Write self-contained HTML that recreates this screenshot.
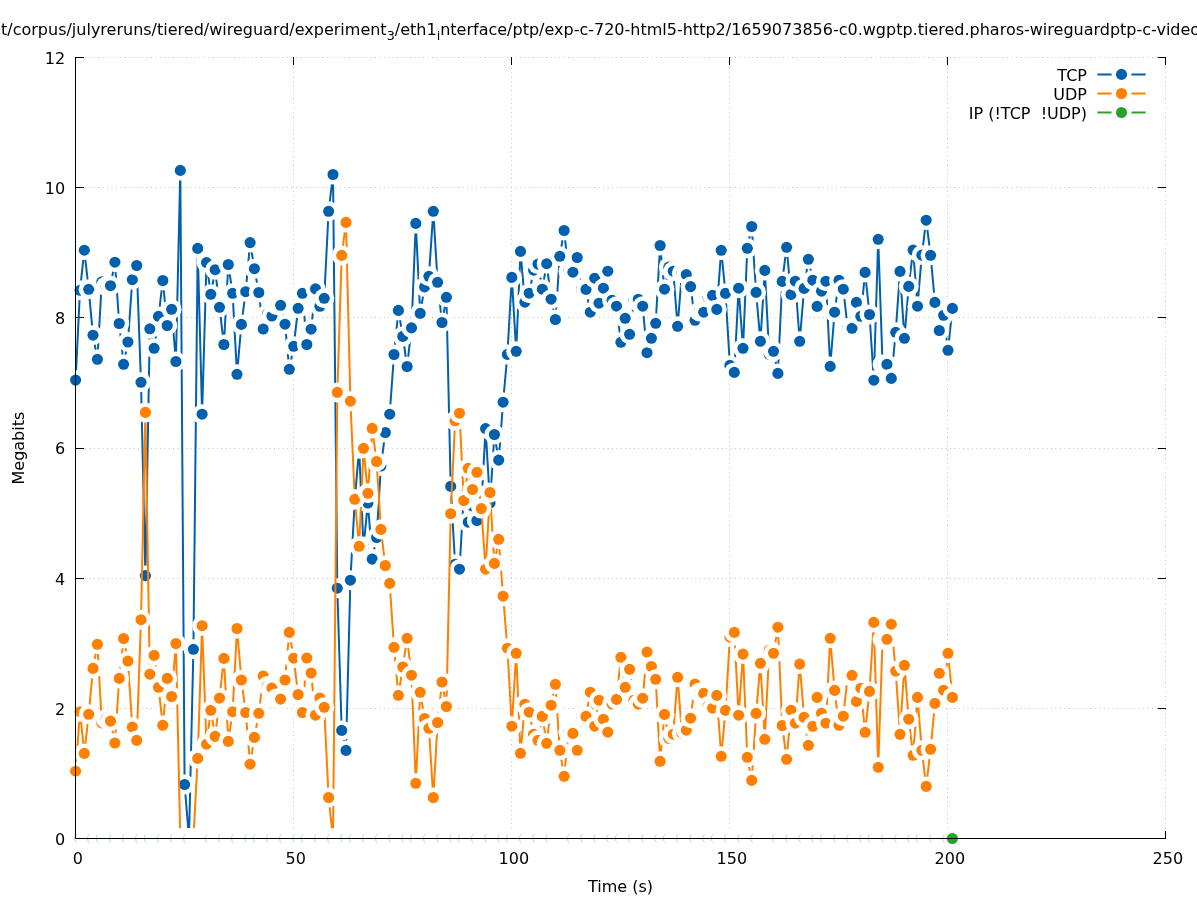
<!DOCTYPE html>
<html><head><meta charset="utf-8"><title>Megabits over time</title>
<style>
html,body{margin:0;padding:0;background:#fff;}
body{width:1197px;height:900px;overflow:hidden;}
svg{display:block;}
text{font-family:"DejaVu Sans","Liberation Sans",sans-serif;font-size:16px;fill:#000;}
</style></head><body>
<svg width="1197" height="900" viewBox="0 0 1197 900">
<rect width="1197" height="900" fill="#fff"/>
<g stroke="#a0a0a0" stroke-width="1" fill="none" opacity="0.65">
<line stroke-dasharray="1 3.39" x1="85.2" y1="838.5" x2="1165.5" y2="838.5"/>
<line stroke-dasharray="1 3.39" x1="85.2" y1="708.5" x2="1165.5" y2="708.5"/>
<line stroke-dasharray="1 3.39" x1="85.2" y1="578.5" x2="1165.5" y2="578.5"/>
<line stroke-dasharray="1 3.39" x1="85.2" y1="448.5" x2="1165.5" y2="448.5"/>
<line stroke-dasharray="1 3.39" x1="85.2" y1="317.5" x2="1165.5" y2="317.5"/>
<line stroke-dasharray="1 3.39" x1="85.2" y1="187.5" x2="1165.5" y2="187.5"/>
<line stroke-dasharray="1 3.39" x1="85.2" y1="57.5" x2="1165.5" y2="57.5"/>
<line stroke-dasharray="1 3.39" x1="75.5" y1="68.0" x2="75.5" y2="838.5"/>
<line stroke-dasharray="1 3.39" x1="293.5" y1="68.0" x2="293.5" y2="838.5"/>
<line stroke-dasharray="1 3.39" x1="511.5" y1="68.0" x2="511.5" y2="838.5"/>
<line stroke-dasharray="1 3.39" x1="729.5" y1="68.0" x2="729.5" y2="838.5"/>
<line stroke-dasharray="1 3.39" x1="947.5" y1="68.0" x2="947.5" y2="838.5"/>
<line stroke-dasharray="1 3.39" x1="1165.5" y1="68.0" x2="1165.5" y2="838.5"/>
</g>
<g stroke="#000" stroke-width="1" fill="none">
<line x1="75.5" y1="838.5" x2="84.1" y2="838.5"/>
<line x1="1166.0" y1="838.5" x2="1157.9" y2="838.5"/>
<line x1="75.5" y1="708.5" x2="84.1" y2="708.5"/>
<line x1="1166.0" y1="708.5" x2="1157.9" y2="708.5"/>
<line x1="75.5" y1="578.5" x2="84.1" y2="578.5"/>
<line x1="1166.0" y1="578.5" x2="1157.9" y2="578.5"/>
<line x1="75.5" y1="448.5" x2="84.1" y2="448.5"/>
<line x1="1166.0" y1="448.5" x2="1157.9" y2="448.5"/>
<line x1="75.5" y1="317.5" x2="84.1" y2="317.5"/>
<line x1="1166.0" y1="317.5" x2="1157.9" y2="317.5"/>
<line x1="75.5" y1="187.5" x2="84.1" y2="187.5"/>
<line x1="1166.0" y1="187.5" x2="1157.9" y2="187.5"/>
<line x1="75.5" y1="57.5" x2="84.1" y2="57.5"/>
<line x1="1166.0" y1="57.5" x2="1157.9" y2="57.5"/>
<line x1="75.5" y1="838.5" x2="75.5" y2="831.0"/>
<line x1="75.5" y1="57.0" x2="75.5" y2="65.0"/>
<line x1="293.5" y1="838.5" x2="293.5" y2="831.0"/>
<line x1="293.5" y1="57.0" x2="293.5" y2="65.0"/>
<line x1="511.5" y1="838.5" x2="511.5" y2="831.0"/>
<line x1="511.5" y1="57.0" x2="511.5" y2="65.0"/>
<line x1="729.5" y1="838.5" x2="729.5" y2="831.0"/>
<line x1="729.5" y1="57.0" x2="729.5" y2="65.0"/>
<line x1="947.5" y1="838.5" x2="947.5" y2="831.0"/>
<line x1="947.5" y1="57.0" x2="947.5" y2="65.0"/>
<line x1="1165.5" y1="838.5" x2="1165.5" y2="831.0"/>
<line x1="1165.5" y1="57.0" x2="1165.5" y2="65.0"/>
</g>
<g>
<polyline fill="none" stroke="#0060ad" stroke-width="2" stroke-linejoin="round" points="75.6,380.1 80.0,290.3 84.3,250.2 88.7,289.3 93.0,335.2 97.4,359.3 101.8,281.8 106.1,286.3 110.5,285.7 114.9,262.2 119.2,323.5 123.6,364.3 127.9,342.0 132.3,279.7 136.7,265.5 141.0,382.3 145.4,575.6 149.8,328.8 154.1,348.3 158.5,316.4 162.8,280.5 167.2,325.5 171.6,309.3 175.9,361.5 180.3,170.4 184.6,784.5 189.0,838.3 193.4,649.3 197.7,248.4 202.1,414.2 206.5,262.6 210.8,294.3 215.2,269.7 219.5,307.3 223.9,344.5 228.3,264.5 232.6,293.3 237.0,374.3 241.4,324.4 245.7,291.7 250.1,242.6 254.4,268.7 258.8,292.5 263.2,329.0 267.5,314.0 271.9,316.0 276.3,305.0 280.6,305.3 285.0,324.2 289.3,369.3 293.7,346.3 298.1,308.3 302.4,293.3 306.8,344.5 311.1,329.2 315.5,288.9 319.9,306.3 324.2,298.3 328.6,211.3 333.0,174.5 337.3,588.2 341.7,730.4 346.0,750.4 350.4,580.2 354.8,500.0 359.1,448.8 363.5,546.5 367.9,503.0 372.2,559.1 376.6,537.5 380.9,466.0 385.3,432.5 389.7,414.2 394.0,354.5 398.4,310.4 402.8,336.4 407.1,366.5 411.5,327.9 415.8,223.4 420.2,313.4 424.6,286.9 428.9,276.3 433.3,211.3 437.6,282.3 442.0,322.5 446.4,297.3 450.7,486.4 455.1,564.2 459.5,569.2 463.8,495.5 468.2,522.1 472.5,506.0 476.9,520.5 481.3,506.0 485.6,428.6 490.0,503.0 494.4,434.5 498.7,460.1 503.1,402.2 507.4,354.4 511.8,277.4 516.2,351.3 520.5,251.4 524.9,302.2 529.2,293.2 533.6,270.2 538.0,264.1 542.3,289.2 546.7,263.7 551.1,299.2 555.4,319.5 559.8,256.3 564.1,230.5 568.5,271.5 572.9,272.2 577.2,257.5 581.6,289.2 586.0,289.4 590.3,312.2 594.7,278.2 599.0,303.2 603.4,288.2 607.8,271.2 612.1,300.2 616.5,306.2 620.9,342.3 625.2,318.3 629.6,334.3 633.9,300.2 638.3,299.2 642.7,306.2 647.0,352.7 651.4,338.3 655.7,323.3 660.1,245.5 664.5,289.2 668.8,267.1 673.2,271.2 677.6,326.3 681.9,273.2 686.3,274.6 690.6,286.6 695.0,320.3 699.4,311.5 703.7,312.2 708.1,297.2 712.5,295.4 716.8,309.4 721.2,250.3 725.5,293.4 729.9,365.4 734.3,372.4 738.6,288.2 743.0,348.3 747.3,248.3 751.7,226.5 756.1,292.4 760.4,341.3 764.8,270.4 769.2,354.3 773.5,351.3 777.9,373.4 782.2,281.4 786.6,247.3 791.0,294.4 795.3,281.2 799.7,341.3 804.1,288.4 808.4,259.3 812.8,280.2 817.1,306.4 821.5,291.2 825.9,281.2 830.2,366.4 834.6,312.2 839.0,280.2 843.3,289.2 847.7,328.0 852.0,328.3 856.4,302.4 860.8,316.3 865.1,272.4 869.5,314.5 873.8,380.2 878.2,239.3 882.6,364.6 886.9,364.4 891.3,378.4 895.7,332.3 900.0,271.4 904.4,338.3 908.7,286.4 913.1,250.1 917.5,306.2 921.8,255.1 926.2,220.2 930.6,255.3 934.9,302.4 939.3,330.5 943.6,315.3 948.0,350.3 952.4,308.4"/>
<circle cx="75.6" cy="380.1" r="10" fill="#fff"/><circle cx="75.6" cy="380.1" r="5.55" fill="#0060ad"/>
<circle cx="80.0" cy="290.3" r="10" fill="#fff"/><circle cx="80.0" cy="290.3" r="5.55" fill="#0060ad"/>
<circle cx="84.3" cy="250.2" r="10" fill="#fff"/><circle cx="84.3" cy="250.2" r="5.55" fill="#0060ad"/>
<circle cx="88.7" cy="289.3" r="10" fill="#fff"/><circle cx="88.7" cy="289.3" r="5.55" fill="#0060ad"/>
<circle cx="93.0" cy="335.2" r="10" fill="#fff"/><circle cx="93.0" cy="335.2" r="5.55" fill="#0060ad"/>
<circle cx="97.4" cy="359.3" r="10" fill="#fff"/><circle cx="97.4" cy="359.3" r="5.55" fill="#0060ad"/>
<circle cx="101.8" cy="281.8" r="10" fill="#fff"/><circle cx="101.8" cy="281.8" r="5.55" fill="#0060ad"/>
<circle cx="106.1" cy="286.3" r="10" fill="#fff"/><circle cx="106.1" cy="286.3" r="5.55" fill="#0060ad"/>
<circle cx="110.5" cy="285.7" r="10" fill="#fff"/><circle cx="110.5" cy="285.7" r="5.55" fill="#0060ad"/>
<circle cx="114.9" cy="262.2" r="10" fill="#fff"/><circle cx="114.9" cy="262.2" r="5.55" fill="#0060ad"/>
<circle cx="119.2" cy="323.5" r="10" fill="#fff"/><circle cx="119.2" cy="323.5" r="5.55" fill="#0060ad"/>
<circle cx="123.6" cy="364.3" r="10" fill="#fff"/><circle cx="123.6" cy="364.3" r="5.55" fill="#0060ad"/>
<circle cx="127.9" cy="342.0" r="10" fill="#fff"/><circle cx="127.9" cy="342.0" r="5.55" fill="#0060ad"/>
<circle cx="132.3" cy="279.7" r="10" fill="#fff"/><circle cx="132.3" cy="279.7" r="5.55" fill="#0060ad"/>
<circle cx="136.7" cy="265.5" r="10" fill="#fff"/><circle cx="136.7" cy="265.5" r="5.55" fill="#0060ad"/>
<circle cx="141.0" cy="382.3" r="10" fill="#fff"/><circle cx="141.0" cy="382.3" r="5.55" fill="#0060ad"/>
<circle cx="145.4" cy="575.6" r="10" fill="#fff"/><circle cx="145.4" cy="575.6" r="5.55" fill="#0060ad"/>
<circle cx="149.8" cy="328.8" r="10" fill="#fff"/><circle cx="149.8" cy="328.8" r="5.55" fill="#0060ad"/>
<circle cx="154.1" cy="348.3" r="10" fill="#fff"/><circle cx="154.1" cy="348.3" r="5.55" fill="#0060ad"/>
<circle cx="158.5" cy="316.4" r="10" fill="#fff"/><circle cx="158.5" cy="316.4" r="5.55" fill="#0060ad"/>
<circle cx="162.8" cy="280.5" r="10" fill="#fff"/><circle cx="162.8" cy="280.5" r="5.55" fill="#0060ad"/>
<circle cx="167.2" cy="325.5" r="10" fill="#fff"/><circle cx="167.2" cy="325.5" r="5.55" fill="#0060ad"/>
<circle cx="171.6" cy="309.3" r="10" fill="#fff"/><circle cx="171.6" cy="309.3" r="5.55" fill="#0060ad"/>
<circle cx="175.9" cy="361.5" r="10" fill="#fff"/><circle cx="175.9" cy="361.5" r="5.55" fill="#0060ad"/>
<circle cx="180.3" cy="170.4" r="10" fill="#fff"/><circle cx="180.3" cy="170.4" r="5.55" fill="#0060ad"/>
<circle cx="184.6" cy="784.5" r="10" fill="#fff"/><circle cx="184.6" cy="784.5" r="5.55" fill="#0060ad"/>
<circle cx="189.0" cy="838.3" r="10" fill="#fff"/><circle cx="189.0" cy="838.3" r="5.55" fill="#0060ad"/>
<circle cx="193.4" cy="649.3" r="10" fill="#fff"/><circle cx="193.4" cy="649.3" r="5.55" fill="#0060ad"/>
<circle cx="197.7" cy="248.4" r="10" fill="#fff"/><circle cx="197.7" cy="248.4" r="5.55" fill="#0060ad"/>
<circle cx="202.1" cy="414.2" r="10" fill="#fff"/><circle cx="202.1" cy="414.2" r="5.55" fill="#0060ad"/>
<circle cx="206.5" cy="262.6" r="10" fill="#fff"/><circle cx="206.5" cy="262.6" r="5.55" fill="#0060ad"/>
<circle cx="210.8" cy="294.3" r="10" fill="#fff"/><circle cx="210.8" cy="294.3" r="5.55" fill="#0060ad"/>
<circle cx="215.2" cy="269.7" r="10" fill="#fff"/><circle cx="215.2" cy="269.7" r="5.55" fill="#0060ad"/>
<circle cx="219.5" cy="307.3" r="10" fill="#fff"/><circle cx="219.5" cy="307.3" r="5.55" fill="#0060ad"/>
<circle cx="223.9" cy="344.5" r="10" fill="#fff"/><circle cx="223.9" cy="344.5" r="5.55" fill="#0060ad"/>
<circle cx="228.3" cy="264.5" r="10" fill="#fff"/><circle cx="228.3" cy="264.5" r="5.55" fill="#0060ad"/>
<circle cx="232.6" cy="293.3" r="10" fill="#fff"/><circle cx="232.6" cy="293.3" r="5.55" fill="#0060ad"/>
<circle cx="237.0" cy="374.3" r="10" fill="#fff"/><circle cx="237.0" cy="374.3" r="5.55" fill="#0060ad"/>
<circle cx="241.4" cy="324.4" r="10" fill="#fff"/><circle cx="241.4" cy="324.4" r="5.55" fill="#0060ad"/>
<circle cx="245.7" cy="291.7" r="10" fill="#fff"/><circle cx="245.7" cy="291.7" r="5.55" fill="#0060ad"/>
<circle cx="250.1" cy="242.6" r="10" fill="#fff"/><circle cx="250.1" cy="242.6" r="5.55" fill="#0060ad"/>
<circle cx="254.4" cy="268.7" r="10" fill="#fff"/><circle cx="254.4" cy="268.7" r="5.55" fill="#0060ad"/>
<circle cx="258.8" cy="292.5" r="10" fill="#fff"/><circle cx="258.8" cy="292.5" r="5.55" fill="#0060ad"/>
<circle cx="263.2" cy="329.0" r="10" fill="#fff"/><circle cx="263.2" cy="329.0" r="5.55" fill="#0060ad"/>
<circle cx="267.5" cy="314.0" r="10" fill="#fff"/><circle cx="267.5" cy="314.0" r="5.55" fill="#0060ad"/>
<circle cx="271.9" cy="316.0" r="10" fill="#fff"/><circle cx="271.9" cy="316.0" r="5.55" fill="#0060ad"/>
<circle cx="276.3" cy="305.0" r="10" fill="#fff"/><circle cx="276.3" cy="305.0" r="5.55" fill="#0060ad"/>
<circle cx="280.6" cy="305.3" r="10" fill="#fff"/><circle cx="280.6" cy="305.3" r="5.55" fill="#0060ad"/>
<circle cx="285.0" cy="324.2" r="10" fill="#fff"/><circle cx="285.0" cy="324.2" r="5.55" fill="#0060ad"/>
<circle cx="289.3" cy="369.3" r="10" fill="#fff"/><circle cx="289.3" cy="369.3" r="5.55" fill="#0060ad"/>
<circle cx="293.7" cy="346.3" r="10" fill="#fff"/><circle cx="293.7" cy="346.3" r="5.55" fill="#0060ad"/>
<circle cx="298.1" cy="308.3" r="10" fill="#fff"/><circle cx="298.1" cy="308.3" r="5.55" fill="#0060ad"/>
<circle cx="302.4" cy="293.3" r="10" fill="#fff"/><circle cx="302.4" cy="293.3" r="5.55" fill="#0060ad"/>
<circle cx="306.8" cy="344.5" r="10" fill="#fff"/><circle cx="306.8" cy="344.5" r="5.55" fill="#0060ad"/>
<circle cx="311.1" cy="329.2" r="10" fill="#fff"/><circle cx="311.1" cy="329.2" r="5.55" fill="#0060ad"/>
<circle cx="315.5" cy="288.9" r="10" fill="#fff"/><circle cx="315.5" cy="288.9" r="5.55" fill="#0060ad"/>
<circle cx="319.9" cy="306.3" r="10" fill="#fff"/><circle cx="319.9" cy="306.3" r="5.55" fill="#0060ad"/>
<circle cx="324.2" cy="298.3" r="10" fill="#fff"/><circle cx="324.2" cy="298.3" r="5.55" fill="#0060ad"/>
<circle cx="328.6" cy="211.3" r="10" fill="#fff"/><circle cx="328.6" cy="211.3" r="5.55" fill="#0060ad"/>
<circle cx="333.0" cy="174.5" r="10" fill="#fff"/><circle cx="333.0" cy="174.5" r="5.55" fill="#0060ad"/>
<circle cx="337.3" cy="588.2" r="10" fill="#fff"/><circle cx="337.3" cy="588.2" r="5.55" fill="#0060ad"/>
<circle cx="341.7" cy="730.4" r="10" fill="#fff"/><circle cx="341.7" cy="730.4" r="5.55" fill="#0060ad"/>
<circle cx="346.0" cy="750.4" r="10" fill="#fff"/><circle cx="346.0" cy="750.4" r="5.55" fill="#0060ad"/>
<circle cx="350.4" cy="580.2" r="10" fill="#fff"/><circle cx="350.4" cy="580.2" r="5.55" fill="#0060ad"/>
<circle cx="354.8" cy="500.0" r="10" fill="#fff"/><circle cx="354.8" cy="500.0" r="5.55" fill="#0060ad"/>
<circle cx="359.1" cy="448.8" r="10" fill="#fff"/><circle cx="359.1" cy="448.8" r="5.55" fill="#0060ad"/>
<circle cx="363.5" cy="546.5" r="10" fill="#fff"/><circle cx="363.5" cy="546.5" r="5.55" fill="#0060ad"/>
<circle cx="367.9" cy="503.0" r="10" fill="#fff"/><circle cx="367.9" cy="503.0" r="5.55" fill="#0060ad"/>
<circle cx="372.2" cy="559.1" r="10" fill="#fff"/><circle cx="372.2" cy="559.1" r="5.55" fill="#0060ad"/>
<circle cx="376.6" cy="537.5" r="10" fill="#fff"/><circle cx="376.6" cy="537.5" r="5.55" fill="#0060ad"/>
<circle cx="380.9" cy="466.0" r="10" fill="#fff"/><circle cx="380.9" cy="466.0" r="5.55" fill="#0060ad"/>
<circle cx="385.3" cy="432.5" r="10" fill="#fff"/><circle cx="385.3" cy="432.5" r="5.55" fill="#0060ad"/>
<circle cx="389.7" cy="414.2" r="10" fill="#fff"/><circle cx="389.7" cy="414.2" r="5.55" fill="#0060ad"/>
<circle cx="394.0" cy="354.5" r="10" fill="#fff"/><circle cx="394.0" cy="354.5" r="5.55" fill="#0060ad"/>
<circle cx="398.4" cy="310.4" r="10" fill="#fff"/><circle cx="398.4" cy="310.4" r="5.55" fill="#0060ad"/>
<circle cx="402.8" cy="336.4" r="10" fill="#fff"/><circle cx="402.8" cy="336.4" r="5.55" fill="#0060ad"/>
<circle cx="407.1" cy="366.5" r="10" fill="#fff"/><circle cx="407.1" cy="366.5" r="5.55" fill="#0060ad"/>
<circle cx="411.5" cy="327.9" r="10" fill="#fff"/><circle cx="411.5" cy="327.9" r="5.55" fill="#0060ad"/>
<circle cx="415.8" cy="223.4" r="10" fill="#fff"/><circle cx="415.8" cy="223.4" r="5.55" fill="#0060ad"/>
<circle cx="420.2" cy="313.4" r="10" fill="#fff"/><circle cx="420.2" cy="313.4" r="5.55" fill="#0060ad"/>
<circle cx="424.6" cy="286.9" r="10" fill="#fff"/><circle cx="424.6" cy="286.9" r="5.55" fill="#0060ad"/>
<circle cx="428.9" cy="276.3" r="10" fill="#fff"/><circle cx="428.9" cy="276.3" r="5.55" fill="#0060ad"/>
<circle cx="433.3" cy="211.3" r="10" fill="#fff"/><circle cx="433.3" cy="211.3" r="5.55" fill="#0060ad"/>
<circle cx="437.6" cy="282.3" r="10" fill="#fff"/><circle cx="437.6" cy="282.3" r="5.55" fill="#0060ad"/>
<circle cx="442.0" cy="322.5" r="10" fill="#fff"/><circle cx="442.0" cy="322.5" r="5.55" fill="#0060ad"/>
<circle cx="446.4" cy="297.3" r="10" fill="#fff"/><circle cx="446.4" cy="297.3" r="5.55" fill="#0060ad"/>
<circle cx="450.7" cy="486.4" r="10" fill="#fff"/><circle cx="450.7" cy="486.4" r="5.55" fill="#0060ad"/>
<circle cx="455.1" cy="564.2" r="10" fill="#fff"/><circle cx="455.1" cy="564.2" r="5.55" fill="#0060ad"/>
<circle cx="459.5" cy="569.2" r="10" fill="#fff"/><circle cx="459.5" cy="569.2" r="5.55" fill="#0060ad"/>
<circle cx="463.8" cy="495.5" r="10" fill="#fff"/><circle cx="463.8" cy="495.5" r="5.55" fill="#0060ad"/>
<circle cx="468.2" cy="522.1" r="10" fill="#fff"/><circle cx="468.2" cy="522.1" r="5.55" fill="#0060ad"/>
<circle cx="472.5" cy="506.0" r="10" fill="#fff"/><circle cx="472.5" cy="506.0" r="5.55" fill="#0060ad"/>
<circle cx="476.9" cy="520.5" r="10" fill="#fff"/><circle cx="476.9" cy="520.5" r="5.55" fill="#0060ad"/>
<circle cx="481.3" cy="506.0" r="10" fill="#fff"/><circle cx="481.3" cy="506.0" r="5.55" fill="#0060ad"/>
<circle cx="485.6" cy="428.6" r="10" fill="#fff"/><circle cx="485.6" cy="428.6" r="5.55" fill="#0060ad"/>
<circle cx="490.0" cy="503.0" r="10" fill="#fff"/><circle cx="490.0" cy="503.0" r="5.55" fill="#0060ad"/>
<circle cx="494.4" cy="434.5" r="10" fill="#fff"/><circle cx="494.4" cy="434.5" r="5.55" fill="#0060ad"/>
<circle cx="498.7" cy="460.1" r="10" fill="#fff"/><circle cx="498.7" cy="460.1" r="5.55" fill="#0060ad"/>
<circle cx="503.1" cy="402.2" r="10" fill="#fff"/><circle cx="503.1" cy="402.2" r="5.55" fill="#0060ad"/>
<circle cx="507.4" cy="354.4" r="10" fill="#fff"/><circle cx="507.4" cy="354.4" r="5.55" fill="#0060ad"/>
<circle cx="511.8" cy="277.4" r="10" fill="#fff"/><circle cx="511.8" cy="277.4" r="5.55" fill="#0060ad"/>
<circle cx="516.2" cy="351.3" r="10" fill="#fff"/><circle cx="516.2" cy="351.3" r="5.55" fill="#0060ad"/>
<circle cx="520.5" cy="251.4" r="10" fill="#fff"/><circle cx="520.5" cy="251.4" r="5.55" fill="#0060ad"/>
<circle cx="524.9" cy="302.2" r="10" fill="#fff"/><circle cx="524.9" cy="302.2" r="5.55" fill="#0060ad"/>
<circle cx="529.2" cy="293.2" r="10" fill="#fff"/><circle cx="529.2" cy="293.2" r="5.55" fill="#0060ad"/>
<circle cx="533.6" cy="270.2" r="10" fill="#fff"/><circle cx="533.6" cy="270.2" r="5.55" fill="#0060ad"/>
<circle cx="538.0" cy="264.1" r="10" fill="#fff"/><circle cx="538.0" cy="264.1" r="5.55" fill="#0060ad"/>
<circle cx="542.3" cy="289.2" r="10" fill="#fff"/><circle cx="542.3" cy="289.2" r="5.55" fill="#0060ad"/>
<circle cx="546.7" cy="263.7" r="10" fill="#fff"/><circle cx="546.7" cy="263.7" r="5.55" fill="#0060ad"/>
<circle cx="551.1" cy="299.2" r="10" fill="#fff"/><circle cx="551.1" cy="299.2" r="5.55" fill="#0060ad"/>
<circle cx="555.4" cy="319.5" r="10" fill="#fff"/><circle cx="555.4" cy="319.5" r="5.55" fill="#0060ad"/>
<circle cx="559.8" cy="256.3" r="10" fill="#fff"/><circle cx="559.8" cy="256.3" r="5.55" fill="#0060ad"/>
<circle cx="564.1" cy="230.5" r="10" fill="#fff"/><circle cx="564.1" cy="230.5" r="5.55" fill="#0060ad"/>
<circle cx="568.5" cy="271.5" r="10" fill="#fff"/><circle cx="568.5" cy="271.5" r="5.55" fill="#0060ad"/>
<circle cx="572.9" cy="272.2" r="10" fill="#fff"/><circle cx="572.9" cy="272.2" r="5.55" fill="#0060ad"/>
<circle cx="577.2" cy="257.5" r="10" fill="#fff"/><circle cx="577.2" cy="257.5" r="5.55" fill="#0060ad"/>
<circle cx="581.6" cy="289.2" r="10" fill="#fff"/><circle cx="581.6" cy="289.2" r="5.55" fill="#0060ad"/>
<circle cx="586.0" cy="289.4" r="10" fill="#fff"/><circle cx="586.0" cy="289.4" r="5.55" fill="#0060ad"/>
<circle cx="590.3" cy="312.2" r="10" fill="#fff"/><circle cx="590.3" cy="312.2" r="5.55" fill="#0060ad"/>
<circle cx="594.7" cy="278.2" r="10" fill="#fff"/><circle cx="594.7" cy="278.2" r="5.55" fill="#0060ad"/>
<circle cx="599.0" cy="303.2" r="10" fill="#fff"/><circle cx="599.0" cy="303.2" r="5.55" fill="#0060ad"/>
<circle cx="603.4" cy="288.2" r="10" fill="#fff"/><circle cx="603.4" cy="288.2" r="5.55" fill="#0060ad"/>
<circle cx="607.8" cy="271.2" r="10" fill="#fff"/><circle cx="607.8" cy="271.2" r="5.55" fill="#0060ad"/>
<circle cx="612.1" cy="300.2" r="10" fill="#fff"/><circle cx="612.1" cy="300.2" r="5.55" fill="#0060ad"/>
<circle cx="616.5" cy="306.2" r="10" fill="#fff"/><circle cx="616.5" cy="306.2" r="5.55" fill="#0060ad"/>
<circle cx="620.9" cy="342.3" r="10" fill="#fff"/><circle cx="620.9" cy="342.3" r="5.55" fill="#0060ad"/>
<circle cx="625.2" cy="318.3" r="10" fill="#fff"/><circle cx="625.2" cy="318.3" r="5.55" fill="#0060ad"/>
<circle cx="629.6" cy="334.3" r="10" fill="#fff"/><circle cx="629.6" cy="334.3" r="5.55" fill="#0060ad"/>
<circle cx="633.9" cy="300.2" r="10" fill="#fff"/><circle cx="633.9" cy="300.2" r="5.55" fill="#0060ad"/>
<circle cx="638.3" cy="299.2" r="10" fill="#fff"/><circle cx="638.3" cy="299.2" r="5.55" fill="#0060ad"/>
<circle cx="642.7" cy="306.2" r="10" fill="#fff"/><circle cx="642.7" cy="306.2" r="5.55" fill="#0060ad"/>
<circle cx="647.0" cy="352.7" r="10" fill="#fff"/><circle cx="647.0" cy="352.7" r="5.55" fill="#0060ad"/>
<circle cx="651.4" cy="338.3" r="10" fill="#fff"/><circle cx="651.4" cy="338.3" r="5.55" fill="#0060ad"/>
<circle cx="655.7" cy="323.3" r="10" fill="#fff"/><circle cx="655.7" cy="323.3" r="5.55" fill="#0060ad"/>
<circle cx="660.1" cy="245.5" r="10" fill="#fff"/><circle cx="660.1" cy="245.5" r="5.55" fill="#0060ad"/>
<circle cx="664.5" cy="289.2" r="10" fill="#fff"/><circle cx="664.5" cy="289.2" r="5.55" fill="#0060ad"/>
<circle cx="668.8" cy="267.1" r="10" fill="#fff"/><circle cx="668.8" cy="267.1" r="5.55" fill="#0060ad"/>
<circle cx="673.2" cy="271.2" r="10" fill="#fff"/><circle cx="673.2" cy="271.2" r="5.55" fill="#0060ad"/>
<circle cx="677.6" cy="326.3" r="10" fill="#fff"/><circle cx="677.6" cy="326.3" r="5.55" fill="#0060ad"/>
<circle cx="681.9" cy="273.2" r="10" fill="#fff"/><circle cx="681.9" cy="273.2" r="5.55" fill="#0060ad"/>
<circle cx="686.3" cy="274.6" r="10" fill="#fff"/><circle cx="686.3" cy="274.6" r="5.55" fill="#0060ad"/>
<circle cx="690.6" cy="286.6" r="10" fill="#fff"/><circle cx="690.6" cy="286.6" r="5.55" fill="#0060ad"/>
<circle cx="695.0" cy="320.3" r="10" fill="#fff"/><circle cx="695.0" cy="320.3" r="5.55" fill="#0060ad"/>
<circle cx="699.4" cy="311.5" r="10" fill="#fff"/><circle cx="699.4" cy="311.5" r="5.55" fill="#0060ad"/>
<circle cx="703.7" cy="312.2" r="10" fill="#fff"/><circle cx="703.7" cy="312.2" r="5.55" fill="#0060ad"/>
<circle cx="708.1" cy="297.2" r="10" fill="#fff"/><circle cx="708.1" cy="297.2" r="5.55" fill="#0060ad"/>
<circle cx="712.5" cy="295.4" r="10" fill="#fff"/><circle cx="712.5" cy="295.4" r="5.55" fill="#0060ad"/>
<circle cx="716.8" cy="309.4" r="10" fill="#fff"/><circle cx="716.8" cy="309.4" r="5.55" fill="#0060ad"/>
<circle cx="721.2" cy="250.3" r="10" fill="#fff"/><circle cx="721.2" cy="250.3" r="5.55" fill="#0060ad"/>
<circle cx="725.5" cy="293.4" r="10" fill="#fff"/><circle cx="725.5" cy="293.4" r="5.55" fill="#0060ad"/>
<circle cx="729.9" cy="365.4" r="10" fill="#fff"/><circle cx="729.9" cy="365.4" r="5.55" fill="#0060ad"/>
<circle cx="734.3" cy="372.4" r="10" fill="#fff"/><circle cx="734.3" cy="372.4" r="5.55" fill="#0060ad"/>
<circle cx="738.6" cy="288.2" r="10" fill="#fff"/><circle cx="738.6" cy="288.2" r="5.55" fill="#0060ad"/>
<circle cx="743.0" cy="348.3" r="10" fill="#fff"/><circle cx="743.0" cy="348.3" r="5.55" fill="#0060ad"/>
<circle cx="747.3" cy="248.3" r="10" fill="#fff"/><circle cx="747.3" cy="248.3" r="5.55" fill="#0060ad"/>
<circle cx="751.7" cy="226.5" r="10" fill="#fff"/><circle cx="751.7" cy="226.5" r="5.55" fill="#0060ad"/>
<circle cx="756.1" cy="292.4" r="10" fill="#fff"/><circle cx="756.1" cy="292.4" r="5.55" fill="#0060ad"/>
<circle cx="760.4" cy="341.3" r="10" fill="#fff"/><circle cx="760.4" cy="341.3" r="5.55" fill="#0060ad"/>
<circle cx="764.8" cy="270.4" r="10" fill="#fff"/><circle cx="764.8" cy="270.4" r="5.55" fill="#0060ad"/>
<circle cx="769.2" cy="354.3" r="10" fill="#fff"/><circle cx="769.2" cy="354.3" r="5.55" fill="#0060ad"/>
<circle cx="773.5" cy="351.3" r="10" fill="#fff"/><circle cx="773.5" cy="351.3" r="5.55" fill="#0060ad"/>
<circle cx="777.9" cy="373.4" r="10" fill="#fff"/><circle cx="777.9" cy="373.4" r="5.55" fill="#0060ad"/>
<circle cx="782.2" cy="281.4" r="10" fill="#fff"/><circle cx="782.2" cy="281.4" r="5.55" fill="#0060ad"/>
<circle cx="786.6" cy="247.3" r="10" fill="#fff"/><circle cx="786.6" cy="247.3" r="5.55" fill="#0060ad"/>
<circle cx="791.0" cy="294.4" r="10" fill="#fff"/><circle cx="791.0" cy="294.4" r="5.55" fill="#0060ad"/>
<circle cx="795.3" cy="281.2" r="10" fill="#fff"/><circle cx="795.3" cy="281.2" r="5.55" fill="#0060ad"/>
<circle cx="799.7" cy="341.3" r="10" fill="#fff"/><circle cx="799.7" cy="341.3" r="5.55" fill="#0060ad"/>
<circle cx="804.1" cy="288.4" r="10" fill="#fff"/><circle cx="804.1" cy="288.4" r="5.55" fill="#0060ad"/>
<circle cx="808.4" cy="259.3" r="10" fill="#fff"/><circle cx="808.4" cy="259.3" r="5.55" fill="#0060ad"/>
<circle cx="812.8" cy="280.2" r="10" fill="#fff"/><circle cx="812.8" cy="280.2" r="5.55" fill="#0060ad"/>
<circle cx="817.1" cy="306.4" r="10" fill="#fff"/><circle cx="817.1" cy="306.4" r="5.55" fill="#0060ad"/>
<circle cx="821.5" cy="291.2" r="10" fill="#fff"/><circle cx="821.5" cy="291.2" r="5.55" fill="#0060ad"/>
<circle cx="825.9" cy="281.2" r="10" fill="#fff"/><circle cx="825.9" cy="281.2" r="5.55" fill="#0060ad"/>
<circle cx="830.2" cy="366.4" r="10" fill="#fff"/><circle cx="830.2" cy="366.4" r="5.55" fill="#0060ad"/>
<circle cx="834.6" cy="312.2" r="10" fill="#fff"/><circle cx="834.6" cy="312.2" r="5.55" fill="#0060ad"/>
<circle cx="839.0" cy="280.2" r="10" fill="#fff"/><circle cx="839.0" cy="280.2" r="5.55" fill="#0060ad"/>
<circle cx="843.3" cy="289.2" r="10" fill="#fff"/><circle cx="843.3" cy="289.2" r="5.55" fill="#0060ad"/>
<circle cx="847.7" cy="328.0" r="10" fill="#fff"/><circle cx="847.7" cy="328.0" r="5.55" fill="#0060ad"/>
<circle cx="852.0" cy="328.3" r="10" fill="#fff"/><circle cx="852.0" cy="328.3" r="5.55" fill="#0060ad"/>
<circle cx="856.4" cy="302.4" r="10" fill="#fff"/><circle cx="856.4" cy="302.4" r="5.55" fill="#0060ad"/>
<circle cx="860.8" cy="316.3" r="10" fill="#fff"/><circle cx="860.8" cy="316.3" r="5.55" fill="#0060ad"/>
<circle cx="865.1" cy="272.4" r="10" fill="#fff"/><circle cx="865.1" cy="272.4" r="5.55" fill="#0060ad"/>
<circle cx="869.5" cy="314.5" r="10" fill="#fff"/><circle cx="869.5" cy="314.5" r="5.55" fill="#0060ad"/>
<circle cx="873.8" cy="380.2" r="10" fill="#fff"/><circle cx="873.8" cy="380.2" r="5.55" fill="#0060ad"/>
<circle cx="878.2" cy="239.3" r="10" fill="#fff"/><circle cx="878.2" cy="239.3" r="5.55" fill="#0060ad"/>
<circle cx="882.6" cy="364.6" r="10" fill="#fff"/><circle cx="882.6" cy="364.6" r="5.55" fill="#0060ad"/>
<circle cx="886.9" cy="364.4" r="10" fill="#fff"/><circle cx="886.9" cy="364.4" r="5.55" fill="#0060ad"/>
<circle cx="891.3" cy="378.4" r="10" fill="#fff"/><circle cx="891.3" cy="378.4" r="5.55" fill="#0060ad"/>
<circle cx="895.7" cy="332.3" r="10" fill="#fff"/><circle cx="895.7" cy="332.3" r="5.55" fill="#0060ad"/>
<circle cx="900.0" cy="271.4" r="10" fill="#fff"/><circle cx="900.0" cy="271.4" r="5.55" fill="#0060ad"/>
<circle cx="904.4" cy="338.3" r="10" fill="#fff"/><circle cx="904.4" cy="338.3" r="5.55" fill="#0060ad"/>
<circle cx="908.7" cy="286.4" r="10" fill="#fff"/><circle cx="908.7" cy="286.4" r="5.55" fill="#0060ad"/>
<circle cx="913.1" cy="250.1" r="10" fill="#fff"/><circle cx="913.1" cy="250.1" r="5.55" fill="#0060ad"/>
<circle cx="917.5" cy="306.2" r="10" fill="#fff"/><circle cx="917.5" cy="306.2" r="5.55" fill="#0060ad"/>
<circle cx="921.8" cy="255.1" r="10" fill="#fff"/><circle cx="921.8" cy="255.1" r="5.55" fill="#0060ad"/>
<circle cx="926.2" cy="220.2" r="10" fill="#fff"/><circle cx="926.2" cy="220.2" r="5.55" fill="#0060ad"/>
<circle cx="930.6" cy="255.3" r="10" fill="#fff"/><circle cx="930.6" cy="255.3" r="5.55" fill="#0060ad"/>
<circle cx="934.9" cy="302.4" r="10" fill="#fff"/><circle cx="934.9" cy="302.4" r="5.55" fill="#0060ad"/>
<circle cx="939.3" cy="330.5" r="10" fill="#fff"/><circle cx="939.3" cy="330.5" r="5.55" fill="#0060ad"/>
<circle cx="943.6" cy="315.3" r="10" fill="#fff"/><circle cx="943.6" cy="315.3" r="5.55" fill="#0060ad"/>
<circle cx="948.0" cy="350.3" r="10" fill="#fff"/><circle cx="948.0" cy="350.3" r="5.55" fill="#0060ad"/>
<circle cx="952.4" cy="308.4" r="10" fill="#fff"/><circle cx="952.4" cy="308.4" r="5.55" fill="#0060ad"/>
<polyline fill="none" stroke="#ff7f00" stroke-width="2" stroke-linejoin="round" points="75.6,771.2 80.0,711.7 84.3,753.4 88.7,714.3 93.0,668.4 97.4,644.3 101.8,722.9 106.1,718.9 110.5,721.1 114.9,743.0 119.2,678.4 123.6,638.5 127.9,661.0 132.3,727.1 136.7,740.4 141.0,619.7 145.4,412.4 149.8,674.2 154.1,655.4 158.5,687.3 162.8,725.3 167.2,678.4 171.6,696.5 175.9,643.5 180.3,838.3 184.6,838.3 189.0,838.3 193.4,838.3 197.7,758.4 202.1,625.7 206.5,744.2 210.8,710.3 215.2,736.4 219.5,698.1 223.9,658.4 228.3,741.4 232.6,711.7 237.0,628.5 241.4,680.0 245.7,712.5 250.1,764.2 254.4,737.4 258.8,713.3 263.2,676.0 267.5,686.0 271.9,688.1 276.3,698.5 280.6,699.1 285.0,680.0 289.3,632.4 293.7,658.2 298.1,694.5 302.4,712.5 306.8,658.0 311.1,673.0 315.5,715.1 319.9,698.0 324.2,707.3 328.6,797.5 333.0,838.3 337.3,392.4 341.7,255.4 346.0,222.4 350.4,401.2 354.8,499.3 359.1,546.3 363.5,448.3 367.9,493.3 372.2,428.4 376.6,461.5 380.9,529.4 385.3,565.5 389.7,583.4 394.0,647.3 398.4,695.3 402.8,667.0 407.1,638.3 411.5,675.2 415.8,783.3 420.2,692.3 424.6,718.5 428.9,728.3 433.3,797.5 437.6,722.5 442.0,682.0 446.4,706.5 450.7,513.7 455.1,420.8 459.5,413.2 463.8,500.5 468.2,468.3 472.5,489.5 476.9,472.3 481.3,508.6 485.6,569.2 490.0,492.5 494.4,563.4 498.7,539.3 503.1,596.2 507.4,648.2 511.8,726.2 516.2,653.3 520.5,753.3 524.9,704.2 529.2,712.2 533.6,734.2 538.0,740.3 542.3,716.4 546.7,743.3 551.1,705.2 555.4,684.3 559.8,750.3 564.1,776.3 568.5,732.5 572.9,733.4 577.2,750.3 581.6,716.5 586.0,716.4 590.3,692.2 594.7,726.2 599.0,700.2 603.4,719.2 607.8,732.2 612.1,704.0 616.5,699.4 620.9,657.3 625.2,687.3 629.6,669.3 633.9,700.2 638.3,704.2 642.7,698.2 647.0,652.1 651.4,666.5 655.7,679.3 660.1,761.3 664.5,714.4 668.8,738.3 673.2,734.2 677.6,677.3 681.9,733.2 686.3,730.2 690.6,718.2 695.0,684.1 699.4,692.5 703.7,693.4 708.1,706.0 712.5,708.2 716.8,695.4 721.2,756.3 725.5,710.4 729.9,637.1 734.3,632.4 738.6,715.2 743.0,654.1 747.3,757.3 751.7,780.4 756.1,713.4 760.4,663.3 764.8,739.3 769.2,650.1 773.5,653.3 777.9,627.2 782.2,725.5 786.6,759.3 791.0,710.2 795.3,723.2 799.7,664.1 804.1,717.4 808.4,745.3 812.8,726.3 817.1,697.4 821.5,713.2 825.9,723.2 830.2,638.3 834.6,690.4 839.0,725.3 843.3,716.2 847.7,675.5 852.0,675.3 856.4,701.4 860.8,688.2 865.1,732.3 869.5,691.4 873.8,622.4 878.2,767.3 882.6,639.5 886.9,639.3 891.3,624.2 895.7,671.1 900.0,734.3 904.4,665.3 908.7,719.2 913.1,755.3 917.5,697.4 921.8,750.3 926.2,786.4 930.6,749.3 934.9,703.4 939.3,673.3 943.6,690.2 948.0,653.3 952.4,697.4"/>
<circle cx="75.6" cy="771.2" r="10" fill="#fff"/><circle cx="75.6" cy="771.2" r="5.55" fill="#ff7f00"/>
<circle cx="80.0" cy="711.7" r="10" fill="#fff"/><circle cx="80.0" cy="711.7" r="5.55" fill="#ff7f00"/>
<circle cx="84.3" cy="753.4" r="10" fill="#fff"/><circle cx="84.3" cy="753.4" r="5.55" fill="#ff7f00"/>
<circle cx="88.7" cy="714.3" r="10" fill="#fff"/><circle cx="88.7" cy="714.3" r="5.55" fill="#ff7f00"/>
<circle cx="93.0" cy="668.4" r="10" fill="#fff"/><circle cx="93.0" cy="668.4" r="5.55" fill="#ff7f00"/>
<circle cx="97.4" cy="644.3" r="10" fill="#fff"/><circle cx="97.4" cy="644.3" r="5.55" fill="#ff7f00"/>
<circle cx="101.8" cy="722.9" r="10" fill="#fff"/><circle cx="101.8" cy="722.9" r="5.55" fill="#ff7f00"/>
<circle cx="106.1" cy="718.9" r="10" fill="#fff"/><circle cx="106.1" cy="718.9" r="5.55" fill="#ff7f00"/>
<circle cx="110.5" cy="721.1" r="10" fill="#fff"/><circle cx="110.5" cy="721.1" r="5.55" fill="#ff7f00"/>
<circle cx="114.9" cy="743.0" r="10" fill="#fff"/><circle cx="114.9" cy="743.0" r="5.55" fill="#ff7f00"/>
<circle cx="119.2" cy="678.4" r="10" fill="#fff"/><circle cx="119.2" cy="678.4" r="5.55" fill="#ff7f00"/>
<circle cx="123.6" cy="638.5" r="10" fill="#fff"/><circle cx="123.6" cy="638.5" r="5.55" fill="#ff7f00"/>
<circle cx="127.9" cy="661.0" r="10" fill="#fff"/><circle cx="127.9" cy="661.0" r="5.55" fill="#ff7f00"/>
<circle cx="132.3" cy="727.1" r="10" fill="#fff"/><circle cx="132.3" cy="727.1" r="5.55" fill="#ff7f00"/>
<circle cx="136.7" cy="740.4" r="10" fill="#fff"/><circle cx="136.7" cy="740.4" r="5.55" fill="#ff7f00"/>
<circle cx="141.0" cy="619.7" r="10" fill="#fff"/><circle cx="141.0" cy="619.7" r="5.55" fill="#ff7f00"/>
<circle cx="145.4" cy="412.4" r="10" fill="#fff"/><circle cx="145.4" cy="412.4" r="5.55" fill="#ff7f00"/>
<circle cx="149.8" cy="674.2" r="10" fill="#fff"/><circle cx="149.8" cy="674.2" r="5.55" fill="#ff7f00"/>
<circle cx="154.1" cy="655.4" r="10" fill="#fff"/><circle cx="154.1" cy="655.4" r="5.55" fill="#ff7f00"/>
<circle cx="158.5" cy="687.3" r="10" fill="#fff"/><circle cx="158.5" cy="687.3" r="5.55" fill="#ff7f00"/>
<circle cx="162.8" cy="725.3" r="10" fill="#fff"/><circle cx="162.8" cy="725.3" r="5.55" fill="#ff7f00"/>
<circle cx="167.2" cy="678.4" r="10" fill="#fff"/><circle cx="167.2" cy="678.4" r="5.55" fill="#ff7f00"/>
<circle cx="171.6" cy="696.5" r="10" fill="#fff"/><circle cx="171.6" cy="696.5" r="5.55" fill="#ff7f00"/>
<circle cx="175.9" cy="643.5" r="10" fill="#fff"/><circle cx="175.9" cy="643.5" r="5.55" fill="#ff7f00"/>
<circle cx="180.3" cy="838.3" r="10" fill="#fff"/><circle cx="180.3" cy="838.3" r="5.55" fill="#ff7f00"/>
<circle cx="184.6" cy="838.3" r="10" fill="#fff"/><circle cx="184.6" cy="838.3" r="5.55" fill="#ff7f00"/>
<circle cx="189.0" cy="838.3" r="10" fill="#fff"/><circle cx="189.0" cy="838.3" r="5.55" fill="#ff7f00"/>
<circle cx="193.4" cy="838.3" r="10" fill="#fff"/><circle cx="193.4" cy="838.3" r="5.55" fill="#ff7f00"/>
<circle cx="197.7" cy="758.4" r="10" fill="#fff"/><circle cx="197.7" cy="758.4" r="5.55" fill="#ff7f00"/>
<circle cx="202.1" cy="625.7" r="10" fill="#fff"/><circle cx="202.1" cy="625.7" r="5.55" fill="#ff7f00"/>
<circle cx="206.5" cy="744.2" r="10" fill="#fff"/><circle cx="206.5" cy="744.2" r="5.55" fill="#ff7f00"/>
<circle cx="210.8" cy="710.3" r="10" fill="#fff"/><circle cx="210.8" cy="710.3" r="5.55" fill="#ff7f00"/>
<circle cx="215.2" cy="736.4" r="10" fill="#fff"/><circle cx="215.2" cy="736.4" r="5.55" fill="#ff7f00"/>
<circle cx="219.5" cy="698.1" r="10" fill="#fff"/><circle cx="219.5" cy="698.1" r="5.55" fill="#ff7f00"/>
<circle cx="223.9" cy="658.4" r="10" fill="#fff"/><circle cx="223.9" cy="658.4" r="5.55" fill="#ff7f00"/>
<circle cx="228.3" cy="741.4" r="10" fill="#fff"/><circle cx="228.3" cy="741.4" r="5.55" fill="#ff7f00"/>
<circle cx="232.6" cy="711.7" r="10" fill="#fff"/><circle cx="232.6" cy="711.7" r="5.55" fill="#ff7f00"/>
<circle cx="237.0" cy="628.5" r="10" fill="#fff"/><circle cx="237.0" cy="628.5" r="5.55" fill="#ff7f00"/>
<circle cx="241.4" cy="680.0" r="10" fill="#fff"/><circle cx="241.4" cy="680.0" r="5.55" fill="#ff7f00"/>
<circle cx="245.7" cy="712.5" r="10" fill="#fff"/><circle cx="245.7" cy="712.5" r="5.55" fill="#ff7f00"/>
<circle cx="250.1" cy="764.2" r="10" fill="#fff"/><circle cx="250.1" cy="764.2" r="5.55" fill="#ff7f00"/>
<circle cx="254.4" cy="737.4" r="10" fill="#fff"/><circle cx="254.4" cy="737.4" r="5.55" fill="#ff7f00"/>
<circle cx="258.8" cy="713.3" r="10" fill="#fff"/><circle cx="258.8" cy="713.3" r="5.55" fill="#ff7f00"/>
<circle cx="263.2" cy="676.0" r="10" fill="#fff"/><circle cx="263.2" cy="676.0" r="5.55" fill="#ff7f00"/>
<circle cx="267.5" cy="686.0" r="10" fill="#fff"/><circle cx="267.5" cy="686.0" r="5.55" fill="#ff7f00"/>
<circle cx="271.9" cy="688.1" r="10" fill="#fff"/><circle cx="271.9" cy="688.1" r="5.55" fill="#ff7f00"/>
<circle cx="276.3" cy="698.5" r="10" fill="#fff"/><circle cx="276.3" cy="698.5" r="5.55" fill="#ff7f00"/>
<circle cx="280.6" cy="699.1" r="10" fill="#fff"/><circle cx="280.6" cy="699.1" r="5.55" fill="#ff7f00"/>
<circle cx="285.0" cy="680.0" r="10" fill="#fff"/><circle cx="285.0" cy="680.0" r="5.55" fill="#ff7f00"/>
<circle cx="289.3" cy="632.4" r="10" fill="#fff"/><circle cx="289.3" cy="632.4" r="5.55" fill="#ff7f00"/>
<circle cx="293.7" cy="658.2" r="10" fill="#fff"/><circle cx="293.7" cy="658.2" r="5.55" fill="#ff7f00"/>
<circle cx="298.1" cy="694.5" r="10" fill="#fff"/><circle cx="298.1" cy="694.5" r="5.55" fill="#ff7f00"/>
<circle cx="302.4" cy="712.5" r="10" fill="#fff"/><circle cx="302.4" cy="712.5" r="5.55" fill="#ff7f00"/>
<circle cx="306.8" cy="658.0" r="10" fill="#fff"/><circle cx="306.8" cy="658.0" r="5.55" fill="#ff7f00"/>
<circle cx="311.1" cy="673.0" r="10" fill="#fff"/><circle cx="311.1" cy="673.0" r="5.55" fill="#ff7f00"/>
<circle cx="315.5" cy="715.1" r="10" fill="#fff"/><circle cx="315.5" cy="715.1" r="5.55" fill="#ff7f00"/>
<circle cx="319.9" cy="698.0" r="10" fill="#fff"/><circle cx="319.9" cy="698.0" r="5.55" fill="#ff7f00"/>
<circle cx="324.2" cy="707.3" r="10" fill="#fff"/><circle cx="324.2" cy="707.3" r="5.55" fill="#ff7f00"/>
<circle cx="328.6" cy="797.5" r="10" fill="#fff"/><circle cx="328.6" cy="797.5" r="5.55" fill="#ff7f00"/>
<circle cx="333.0" cy="838.3" r="10" fill="#fff"/><circle cx="333.0" cy="838.3" r="5.55" fill="#ff7f00"/>
<circle cx="337.3" cy="392.4" r="10" fill="#fff"/><circle cx="337.3" cy="392.4" r="5.55" fill="#ff7f00"/>
<circle cx="341.7" cy="255.4" r="10" fill="#fff"/><circle cx="341.7" cy="255.4" r="5.55" fill="#ff7f00"/>
<circle cx="346.0" cy="222.4" r="10" fill="#fff"/><circle cx="346.0" cy="222.4" r="5.55" fill="#ff7f00"/>
<circle cx="350.4" cy="401.2" r="10" fill="#fff"/><circle cx="350.4" cy="401.2" r="5.55" fill="#ff7f00"/>
<circle cx="354.8" cy="499.3" r="10" fill="#fff"/><circle cx="354.8" cy="499.3" r="5.55" fill="#ff7f00"/>
<circle cx="359.1" cy="546.3" r="10" fill="#fff"/><circle cx="359.1" cy="546.3" r="5.55" fill="#ff7f00"/>
<circle cx="363.5" cy="448.3" r="10" fill="#fff"/><circle cx="363.5" cy="448.3" r="5.55" fill="#ff7f00"/>
<circle cx="367.9" cy="493.3" r="10" fill="#fff"/><circle cx="367.9" cy="493.3" r="5.55" fill="#ff7f00"/>
<circle cx="372.2" cy="428.4" r="10" fill="#fff"/><circle cx="372.2" cy="428.4" r="5.55" fill="#ff7f00"/>
<circle cx="376.6" cy="461.5" r="10" fill="#fff"/><circle cx="376.6" cy="461.5" r="5.55" fill="#ff7f00"/>
<circle cx="380.9" cy="529.4" r="10" fill="#fff"/><circle cx="380.9" cy="529.4" r="5.55" fill="#ff7f00"/>
<circle cx="385.3" cy="565.5" r="10" fill="#fff"/><circle cx="385.3" cy="565.5" r="5.55" fill="#ff7f00"/>
<circle cx="389.7" cy="583.4" r="10" fill="#fff"/><circle cx="389.7" cy="583.4" r="5.55" fill="#ff7f00"/>
<circle cx="394.0" cy="647.3" r="10" fill="#fff"/><circle cx="394.0" cy="647.3" r="5.55" fill="#ff7f00"/>
<circle cx="398.4" cy="695.3" r="10" fill="#fff"/><circle cx="398.4" cy="695.3" r="5.55" fill="#ff7f00"/>
<circle cx="402.8" cy="667.0" r="10" fill="#fff"/><circle cx="402.8" cy="667.0" r="5.55" fill="#ff7f00"/>
<circle cx="407.1" cy="638.3" r="10" fill="#fff"/><circle cx="407.1" cy="638.3" r="5.55" fill="#ff7f00"/>
<circle cx="411.5" cy="675.2" r="10" fill="#fff"/><circle cx="411.5" cy="675.2" r="5.55" fill="#ff7f00"/>
<circle cx="415.8" cy="783.3" r="10" fill="#fff"/><circle cx="415.8" cy="783.3" r="5.55" fill="#ff7f00"/>
<circle cx="420.2" cy="692.3" r="10" fill="#fff"/><circle cx="420.2" cy="692.3" r="5.55" fill="#ff7f00"/>
<circle cx="424.6" cy="718.5" r="10" fill="#fff"/><circle cx="424.6" cy="718.5" r="5.55" fill="#ff7f00"/>
<circle cx="428.9" cy="728.3" r="10" fill="#fff"/><circle cx="428.9" cy="728.3" r="5.55" fill="#ff7f00"/>
<circle cx="433.3" cy="797.5" r="10" fill="#fff"/><circle cx="433.3" cy="797.5" r="5.55" fill="#ff7f00"/>
<circle cx="437.6" cy="722.5" r="10" fill="#fff"/><circle cx="437.6" cy="722.5" r="5.55" fill="#ff7f00"/>
<circle cx="442.0" cy="682.0" r="10" fill="#fff"/><circle cx="442.0" cy="682.0" r="5.55" fill="#ff7f00"/>
<circle cx="446.4" cy="706.5" r="10" fill="#fff"/><circle cx="446.4" cy="706.5" r="5.55" fill="#ff7f00"/>
<circle cx="450.7" cy="513.7" r="10" fill="#fff"/><circle cx="450.7" cy="513.7" r="5.55" fill="#ff7f00"/>
<circle cx="455.1" cy="420.8" r="10" fill="#fff"/><circle cx="455.1" cy="420.8" r="5.55" fill="#ff7f00"/>
<circle cx="459.5" cy="413.2" r="10" fill="#fff"/><circle cx="459.5" cy="413.2" r="5.55" fill="#ff7f00"/>
<circle cx="463.8" cy="500.5" r="10" fill="#fff"/><circle cx="463.8" cy="500.5" r="5.55" fill="#ff7f00"/>
<circle cx="468.2" cy="468.3" r="10" fill="#fff"/><circle cx="468.2" cy="468.3" r="5.55" fill="#ff7f00"/>
<circle cx="472.5" cy="489.5" r="10" fill="#fff"/><circle cx="472.5" cy="489.5" r="5.55" fill="#ff7f00"/>
<circle cx="476.9" cy="472.3" r="10" fill="#fff"/><circle cx="476.9" cy="472.3" r="5.55" fill="#ff7f00"/>
<circle cx="481.3" cy="508.6" r="10" fill="#fff"/><circle cx="481.3" cy="508.6" r="5.55" fill="#ff7f00"/>
<circle cx="485.6" cy="569.2" r="10" fill="#fff"/><circle cx="485.6" cy="569.2" r="5.55" fill="#ff7f00"/>
<circle cx="490.0" cy="492.5" r="10" fill="#fff"/><circle cx="490.0" cy="492.5" r="5.55" fill="#ff7f00"/>
<circle cx="494.4" cy="563.4" r="10" fill="#fff"/><circle cx="494.4" cy="563.4" r="5.55" fill="#ff7f00"/>
<circle cx="498.7" cy="539.3" r="10" fill="#fff"/><circle cx="498.7" cy="539.3" r="5.55" fill="#ff7f00"/>
<circle cx="503.1" cy="596.2" r="10" fill="#fff"/><circle cx="503.1" cy="596.2" r="5.55" fill="#ff7f00"/>
<circle cx="507.4" cy="648.2" r="10" fill="#fff"/><circle cx="507.4" cy="648.2" r="5.55" fill="#ff7f00"/>
<circle cx="511.8" cy="726.2" r="10" fill="#fff"/><circle cx="511.8" cy="726.2" r="5.55" fill="#ff7f00"/>
<circle cx="516.2" cy="653.3" r="10" fill="#fff"/><circle cx="516.2" cy="653.3" r="5.55" fill="#ff7f00"/>
<circle cx="520.5" cy="753.3" r="10" fill="#fff"/><circle cx="520.5" cy="753.3" r="5.55" fill="#ff7f00"/>
<circle cx="524.9" cy="704.2" r="10" fill="#fff"/><circle cx="524.9" cy="704.2" r="5.55" fill="#ff7f00"/>
<circle cx="529.2" cy="712.2" r="10" fill="#fff"/><circle cx="529.2" cy="712.2" r="5.55" fill="#ff7f00"/>
<circle cx="533.6" cy="734.2" r="10" fill="#fff"/><circle cx="533.6" cy="734.2" r="5.55" fill="#ff7f00"/>
<circle cx="538.0" cy="740.3" r="10" fill="#fff"/><circle cx="538.0" cy="740.3" r="5.55" fill="#ff7f00"/>
<circle cx="542.3" cy="716.4" r="10" fill="#fff"/><circle cx="542.3" cy="716.4" r="5.55" fill="#ff7f00"/>
<circle cx="546.7" cy="743.3" r="10" fill="#fff"/><circle cx="546.7" cy="743.3" r="5.55" fill="#ff7f00"/>
<circle cx="551.1" cy="705.2" r="10" fill="#fff"/><circle cx="551.1" cy="705.2" r="5.55" fill="#ff7f00"/>
<circle cx="555.4" cy="684.3" r="10" fill="#fff"/><circle cx="555.4" cy="684.3" r="5.55" fill="#ff7f00"/>
<circle cx="559.8" cy="750.3" r="10" fill="#fff"/><circle cx="559.8" cy="750.3" r="5.55" fill="#ff7f00"/>
<circle cx="564.1" cy="776.3" r="10" fill="#fff"/><circle cx="564.1" cy="776.3" r="5.55" fill="#ff7f00"/>
<circle cx="568.5" cy="732.5" r="10" fill="#fff"/><circle cx="568.5" cy="732.5" r="5.55" fill="#ff7f00"/>
<circle cx="572.9" cy="733.4" r="10" fill="#fff"/><circle cx="572.9" cy="733.4" r="5.55" fill="#ff7f00"/>
<circle cx="577.2" cy="750.3" r="10" fill="#fff"/><circle cx="577.2" cy="750.3" r="5.55" fill="#ff7f00"/>
<circle cx="581.6" cy="716.5" r="10" fill="#fff"/><circle cx="581.6" cy="716.5" r="5.55" fill="#ff7f00"/>
<circle cx="586.0" cy="716.4" r="10" fill="#fff"/><circle cx="586.0" cy="716.4" r="5.55" fill="#ff7f00"/>
<circle cx="590.3" cy="692.2" r="10" fill="#fff"/><circle cx="590.3" cy="692.2" r="5.55" fill="#ff7f00"/>
<circle cx="594.7" cy="726.2" r="10" fill="#fff"/><circle cx="594.7" cy="726.2" r="5.55" fill="#ff7f00"/>
<circle cx="599.0" cy="700.2" r="10" fill="#fff"/><circle cx="599.0" cy="700.2" r="5.55" fill="#ff7f00"/>
<circle cx="603.4" cy="719.2" r="10" fill="#fff"/><circle cx="603.4" cy="719.2" r="5.55" fill="#ff7f00"/>
<circle cx="607.8" cy="732.2" r="10" fill="#fff"/><circle cx="607.8" cy="732.2" r="5.55" fill="#ff7f00"/>
<circle cx="612.1" cy="704.0" r="10" fill="#fff"/><circle cx="612.1" cy="704.0" r="5.55" fill="#ff7f00"/>
<circle cx="616.5" cy="699.4" r="10" fill="#fff"/><circle cx="616.5" cy="699.4" r="5.55" fill="#ff7f00"/>
<circle cx="620.9" cy="657.3" r="10" fill="#fff"/><circle cx="620.9" cy="657.3" r="5.55" fill="#ff7f00"/>
<circle cx="625.2" cy="687.3" r="10" fill="#fff"/><circle cx="625.2" cy="687.3" r="5.55" fill="#ff7f00"/>
<circle cx="629.6" cy="669.3" r="10" fill="#fff"/><circle cx="629.6" cy="669.3" r="5.55" fill="#ff7f00"/>
<circle cx="633.9" cy="700.2" r="10" fill="#fff"/><circle cx="633.9" cy="700.2" r="5.55" fill="#ff7f00"/>
<circle cx="638.3" cy="704.2" r="10" fill="#fff"/><circle cx="638.3" cy="704.2" r="5.55" fill="#ff7f00"/>
<circle cx="642.7" cy="698.2" r="10" fill="#fff"/><circle cx="642.7" cy="698.2" r="5.55" fill="#ff7f00"/>
<circle cx="647.0" cy="652.1" r="10" fill="#fff"/><circle cx="647.0" cy="652.1" r="5.55" fill="#ff7f00"/>
<circle cx="651.4" cy="666.5" r="10" fill="#fff"/><circle cx="651.4" cy="666.5" r="5.55" fill="#ff7f00"/>
<circle cx="655.7" cy="679.3" r="10" fill="#fff"/><circle cx="655.7" cy="679.3" r="5.55" fill="#ff7f00"/>
<circle cx="660.1" cy="761.3" r="10" fill="#fff"/><circle cx="660.1" cy="761.3" r="5.55" fill="#ff7f00"/>
<circle cx="664.5" cy="714.4" r="10" fill="#fff"/><circle cx="664.5" cy="714.4" r="5.55" fill="#ff7f00"/>
<circle cx="668.8" cy="738.3" r="10" fill="#fff"/><circle cx="668.8" cy="738.3" r="5.55" fill="#ff7f00"/>
<circle cx="673.2" cy="734.2" r="10" fill="#fff"/><circle cx="673.2" cy="734.2" r="5.55" fill="#ff7f00"/>
<circle cx="677.6" cy="677.3" r="10" fill="#fff"/><circle cx="677.6" cy="677.3" r="5.55" fill="#ff7f00"/>
<circle cx="681.9" cy="733.2" r="10" fill="#fff"/><circle cx="681.9" cy="733.2" r="5.55" fill="#ff7f00"/>
<circle cx="686.3" cy="730.2" r="10" fill="#fff"/><circle cx="686.3" cy="730.2" r="5.55" fill="#ff7f00"/>
<circle cx="690.6" cy="718.2" r="10" fill="#fff"/><circle cx="690.6" cy="718.2" r="5.55" fill="#ff7f00"/>
<circle cx="695.0" cy="684.1" r="10" fill="#fff"/><circle cx="695.0" cy="684.1" r="5.55" fill="#ff7f00"/>
<circle cx="699.4" cy="692.5" r="10" fill="#fff"/><circle cx="699.4" cy="692.5" r="5.55" fill="#ff7f00"/>
<circle cx="703.7" cy="693.4" r="10" fill="#fff"/><circle cx="703.7" cy="693.4" r="5.55" fill="#ff7f00"/>
<circle cx="708.1" cy="706.0" r="10" fill="#fff"/><circle cx="708.1" cy="706.0" r="5.55" fill="#ff7f00"/>
<circle cx="712.5" cy="708.2" r="10" fill="#fff"/><circle cx="712.5" cy="708.2" r="5.55" fill="#ff7f00"/>
<circle cx="716.8" cy="695.4" r="10" fill="#fff"/><circle cx="716.8" cy="695.4" r="5.55" fill="#ff7f00"/>
<circle cx="721.2" cy="756.3" r="10" fill="#fff"/><circle cx="721.2" cy="756.3" r="5.55" fill="#ff7f00"/>
<circle cx="725.5" cy="710.4" r="10" fill="#fff"/><circle cx="725.5" cy="710.4" r="5.55" fill="#ff7f00"/>
<circle cx="729.9" cy="637.1" r="10" fill="#fff"/><circle cx="729.9" cy="637.1" r="5.55" fill="#ff7f00"/>
<circle cx="734.3" cy="632.4" r="10" fill="#fff"/><circle cx="734.3" cy="632.4" r="5.55" fill="#ff7f00"/>
<circle cx="738.6" cy="715.2" r="10" fill="#fff"/><circle cx="738.6" cy="715.2" r="5.55" fill="#ff7f00"/>
<circle cx="743.0" cy="654.1" r="10" fill="#fff"/><circle cx="743.0" cy="654.1" r="5.55" fill="#ff7f00"/>
<circle cx="747.3" cy="757.3" r="10" fill="#fff"/><circle cx="747.3" cy="757.3" r="5.55" fill="#ff7f00"/>
<circle cx="751.7" cy="780.4" r="10" fill="#fff"/><circle cx="751.7" cy="780.4" r="5.55" fill="#ff7f00"/>
<circle cx="756.1" cy="713.4" r="10" fill="#fff"/><circle cx="756.1" cy="713.4" r="5.55" fill="#ff7f00"/>
<circle cx="760.4" cy="663.3" r="10" fill="#fff"/><circle cx="760.4" cy="663.3" r="5.55" fill="#ff7f00"/>
<circle cx="764.8" cy="739.3" r="10" fill="#fff"/><circle cx="764.8" cy="739.3" r="5.55" fill="#ff7f00"/>
<circle cx="769.2" cy="650.1" r="10" fill="#fff"/><circle cx="769.2" cy="650.1" r="5.55" fill="#ff7f00"/>
<circle cx="773.5" cy="653.3" r="10" fill="#fff"/><circle cx="773.5" cy="653.3" r="5.55" fill="#ff7f00"/>
<circle cx="777.9" cy="627.2" r="10" fill="#fff"/><circle cx="777.9" cy="627.2" r="5.55" fill="#ff7f00"/>
<circle cx="782.2" cy="725.5" r="10" fill="#fff"/><circle cx="782.2" cy="725.5" r="5.55" fill="#ff7f00"/>
<circle cx="786.6" cy="759.3" r="10" fill="#fff"/><circle cx="786.6" cy="759.3" r="5.55" fill="#ff7f00"/>
<circle cx="791.0" cy="710.2" r="10" fill="#fff"/><circle cx="791.0" cy="710.2" r="5.55" fill="#ff7f00"/>
<circle cx="795.3" cy="723.2" r="10" fill="#fff"/><circle cx="795.3" cy="723.2" r="5.55" fill="#ff7f00"/>
<circle cx="799.7" cy="664.1" r="10" fill="#fff"/><circle cx="799.7" cy="664.1" r="5.55" fill="#ff7f00"/>
<circle cx="804.1" cy="717.4" r="10" fill="#fff"/><circle cx="804.1" cy="717.4" r="5.55" fill="#ff7f00"/>
<circle cx="808.4" cy="745.3" r="10" fill="#fff"/><circle cx="808.4" cy="745.3" r="5.55" fill="#ff7f00"/>
<circle cx="812.8" cy="726.3" r="10" fill="#fff"/><circle cx="812.8" cy="726.3" r="5.55" fill="#ff7f00"/>
<circle cx="817.1" cy="697.4" r="10" fill="#fff"/><circle cx="817.1" cy="697.4" r="5.55" fill="#ff7f00"/>
<circle cx="821.5" cy="713.2" r="10" fill="#fff"/><circle cx="821.5" cy="713.2" r="5.55" fill="#ff7f00"/>
<circle cx="825.9" cy="723.2" r="10" fill="#fff"/><circle cx="825.9" cy="723.2" r="5.55" fill="#ff7f00"/>
<circle cx="830.2" cy="638.3" r="10" fill="#fff"/><circle cx="830.2" cy="638.3" r="5.55" fill="#ff7f00"/>
<circle cx="834.6" cy="690.4" r="10" fill="#fff"/><circle cx="834.6" cy="690.4" r="5.55" fill="#ff7f00"/>
<circle cx="839.0" cy="725.3" r="10" fill="#fff"/><circle cx="839.0" cy="725.3" r="5.55" fill="#ff7f00"/>
<circle cx="843.3" cy="716.2" r="10" fill="#fff"/><circle cx="843.3" cy="716.2" r="5.55" fill="#ff7f00"/>
<circle cx="847.7" cy="675.5" r="10" fill="#fff"/><circle cx="847.7" cy="675.5" r="5.55" fill="#ff7f00"/>
<circle cx="852.0" cy="675.3" r="10" fill="#fff"/><circle cx="852.0" cy="675.3" r="5.55" fill="#ff7f00"/>
<circle cx="856.4" cy="701.4" r="10" fill="#fff"/><circle cx="856.4" cy="701.4" r="5.55" fill="#ff7f00"/>
<circle cx="860.8" cy="688.2" r="10" fill="#fff"/><circle cx="860.8" cy="688.2" r="5.55" fill="#ff7f00"/>
<circle cx="865.1" cy="732.3" r="10" fill="#fff"/><circle cx="865.1" cy="732.3" r="5.55" fill="#ff7f00"/>
<circle cx="869.5" cy="691.4" r="10" fill="#fff"/><circle cx="869.5" cy="691.4" r="5.55" fill="#ff7f00"/>
<circle cx="873.8" cy="622.4" r="10" fill="#fff"/><circle cx="873.8" cy="622.4" r="5.55" fill="#ff7f00"/>
<circle cx="878.2" cy="767.3" r="10" fill="#fff"/><circle cx="878.2" cy="767.3" r="5.55" fill="#ff7f00"/>
<circle cx="882.6" cy="639.5" r="10" fill="#fff"/><circle cx="882.6" cy="639.5" r="5.55" fill="#ff7f00"/>
<circle cx="886.9" cy="639.3" r="10" fill="#fff"/><circle cx="886.9" cy="639.3" r="5.55" fill="#ff7f00"/>
<circle cx="891.3" cy="624.2" r="10" fill="#fff"/><circle cx="891.3" cy="624.2" r="5.55" fill="#ff7f00"/>
<circle cx="895.7" cy="671.1" r="10" fill="#fff"/><circle cx="895.7" cy="671.1" r="5.55" fill="#ff7f00"/>
<circle cx="900.0" cy="734.3" r="10" fill="#fff"/><circle cx="900.0" cy="734.3" r="5.55" fill="#ff7f00"/>
<circle cx="904.4" cy="665.3" r="10" fill="#fff"/><circle cx="904.4" cy="665.3" r="5.55" fill="#ff7f00"/>
<circle cx="908.7" cy="719.2" r="10" fill="#fff"/><circle cx="908.7" cy="719.2" r="5.55" fill="#ff7f00"/>
<circle cx="913.1" cy="755.3" r="10" fill="#fff"/><circle cx="913.1" cy="755.3" r="5.55" fill="#ff7f00"/>
<circle cx="917.5" cy="697.4" r="10" fill="#fff"/><circle cx="917.5" cy="697.4" r="5.55" fill="#ff7f00"/>
<circle cx="921.8" cy="750.3" r="10" fill="#fff"/><circle cx="921.8" cy="750.3" r="5.55" fill="#ff7f00"/>
<circle cx="926.2" cy="786.4" r="10" fill="#fff"/><circle cx="926.2" cy="786.4" r="5.55" fill="#ff7f00"/>
<circle cx="930.6" cy="749.3" r="10" fill="#fff"/><circle cx="930.6" cy="749.3" r="5.55" fill="#ff7f00"/>
<circle cx="934.9" cy="703.4" r="10" fill="#fff"/><circle cx="934.9" cy="703.4" r="5.55" fill="#ff7f00"/>
<circle cx="939.3" cy="673.3" r="10" fill="#fff"/><circle cx="939.3" cy="673.3" r="5.55" fill="#ff7f00"/>
<circle cx="943.6" cy="690.2" r="10" fill="#fff"/><circle cx="943.6" cy="690.2" r="5.55" fill="#ff7f00"/>
<circle cx="948.0" cy="653.3" r="10" fill="#fff"/><circle cx="948.0" cy="653.3" r="5.55" fill="#ff7f00"/>
<circle cx="952.4" cy="697.4" r="10" fill="#fff"/><circle cx="952.4" cy="697.4" r="5.55" fill="#ff7f00"/>
<rect x="65.6" y="828.5" width="896.8" height="20" fill="#fff"/>
<circle cx="75.6" cy="838.5" r="10" fill="#fff"/><circle cx="952.4" cy="838.5" r="10" fill="#fff"/>
<path d="M76.4 842.7 A5.55 5.55 0 0 1 76.4 834.3" stroke="#2ca02c" stroke-width="0.8" fill="none" opacity="0.45"/>
<path d="M89.4 842.7 A5.55 5.55 0 0 1 89.4 834.3" stroke="#2ca02c" stroke-width="0.8" fill="none" opacity="0.45"/>
<path d="M98.2 842.7 A5.55 5.55 0 0 1 98.2 834.3" stroke="#2ca02c" stroke-width="0.8" fill="none" opacity="0.45"/>
<path d="M111.3 842.7 A5.55 5.55 0 0 1 111.3 834.3" stroke="#2ca02c" stroke-width="0.8" fill="none" opacity="0.45"/>
<path d="M124.3 842.7 A5.55 5.55 0 0 1 124.3 834.3" stroke="#2ca02c" stroke-width="0.8" fill="none" opacity="0.45"/>
<path d="M137.4 842.7 A5.55 5.55 0 0 1 137.4 834.3" stroke="#2ca02c" stroke-width="0.8" fill="none" opacity="0.45"/>
<path d="M146.2 842.7 A5.55 5.55 0 0 1 146.2 834.3" stroke="#2ca02c" stroke-width="0.8" fill="none" opacity="0.45"/>
<path d="M159.2 842.7 A5.55 5.55 0 0 1 159.2 834.3" stroke="#2ca02c" stroke-width="0.8" fill="none" opacity="0.45"/>
<path d="M172.3 842.7 A5.55 5.55 0 0 1 172.3 834.3" stroke="#2ca02c" stroke-width="0.8" fill="none" opacity="0.45"/>
<path d="M185.4 842.7 A5.55 5.55 0 0 1 185.4 834.3" stroke="#2ca02c" stroke-width="0.8" fill="none" opacity="0.45"/>
<path d="M207.2 842.7 A5.55 5.55 0 0 1 207.2 834.3" stroke="#2ca02c" stroke-width="0.8" fill="none" opacity="0.45"/>
<path d="M220.3 842.7 A5.55 5.55 0 0 1 220.3 834.3" stroke="#2ca02c" stroke-width="0.8" fill="none" opacity="0.45"/>
<path d="M233.4 842.7 A5.55 5.55 0 0 1 233.4 834.3" stroke="#2ca02c" stroke-width="0.8" fill="none" opacity="0.45"/>
<path d="M246.5 842.7 A5.55 5.55 0 0 1 246.5 834.3" stroke="#2ca02c" stroke-width="0.8" fill="none" opacity="0.45"/>
<path d="M255.2 842.7 A5.55 5.55 0 0 1 255.2 834.3" stroke="#2ca02c" stroke-width="0.8" fill="none" opacity="0.45"/>
<path d="M268.3 842.7 A5.55 5.55 0 0 1 268.3 834.3" stroke="#2ca02c" stroke-width="0.8" fill="none" opacity="0.45"/>
<path d="M281.4 842.7 A5.55 5.55 0 0 1 281.4 834.3" stroke="#2ca02c" stroke-width="0.8" fill="none" opacity="0.45"/>
<path d="M294.5 842.7 A5.55 5.55 0 0 1 294.5 834.3" stroke="#2ca02c" stroke-width="0.8" fill="none" opacity="0.45"/>
<path d="M303.2 842.7 A5.55 5.55 0 0 1 303.2 834.3" stroke="#2ca02c" stroke-width="0.8" fill="none" opacity="0.45"/>
<path d="M316.3 842.7 A5.55 5.55 0 0 1 316.3 834.3" stroke="#2ca02c" stroke-width="0.8" fill="none" opacity="0.45"/>
<path d="M329.4 842.7 A5.55 5.55 0 0 1 329.4 834.3" stroke="#2ca02c" stroke-width="0.8" fill="none" opacity="0.45"/>
<path d="M342.4 842.7 A5.55 5.55 0 0 1 342.4 834.3" stroke="#2ca02c" stroke-width="0.8" fill="none" opacity="0.45"/>
<path d="M351.2 842.7 A5.55 5.55 0 0 1 351.2 834.3" stroke="#2ca02c" stroke-width="0.8" fill="none" opacity="0.45"/>
<path d="M364.3 842.7 A5.55 5.55 0 0 1 364.3 834.3" stroke="#2ca02c" stroke-width="0.8" fill="none" opacity="0.45"/>
<path d="M377.3 842.7 A5.55 5.55 0 0 1 377.3 834.3" stroke="#2ca02c" stroke-width="0.8" fill="none" opacity="0.45"/>
<path d="M390.4 842.7 A5.55 5.55 0 0 1 390.4 834.3" stroke="#2ca02c" stroke-width="0.8" fill="none" opacity="0.45"/>
<path d="M403.5 842.7 A5.55 5.55 0 0 1 403.5 834.3" stroke="#2ca02c" stroke-width="0.8" fill="none" opacity="0.45"/>
<path d="M412.2 842.7 A5.55 5.55 0 0 1 412.2 834.3" stroke="#2ca02c" stroke-width="0.8" fill="none" opacity="0.45"/>
<path d="M425.3 842.7 A5.55 5.55 0 0 1 425.3 834.3" stroke="#2ca02c" stroke-width="0.8" fill="none" opacity="0.45"/>
<path d="M438.4 842.7 A5.55 5.55 0 0 1 438.4 834.3" stroke="#2ca02c" stroke-width="0.8" fill="none" opacity="0.45"/>
<path d="M451.5 842.7 A5.55 5.55 0 0 1 451.5 834.3" stroke="#2ca02c" stroke-width="0.8" fill="none" opacity="0.45"/>
<path d="M460.2 842.7 A5.55 5.55 0 0 1 460.2 834.3" stroke="#2ca02c" stroke-width="0.8" fill="none" opacity="0.45"/>
<path d="M473.3 842.7 A5.55 5.55 0 0 1 473.3 834.3" stroke="#2ca02c" stroke-width="0.8" fill="none" opacity="0.45"/>
<path d="M486.4 842.7 A5.55 5.55 0 0 1 486.4 834.3" stroke="#2ca02c" stroke-width="0.8" fill="none" opacity="0.45"/>
<path d="M499.5 842.7 A5.55 5.55 0 0 1 499.5 834.3" stroke="#2ca02c" stroke-width="0.8" fill="none" opacity="0.45"/>
<path d="M508.2 842.7 A5.55 5.55 0 0 1 508.2 834.3" stroke="#2ca02c" stroke-width="0.8" fill="none" opacity="0.45"/>
<path d="M521.3 842.7 A5.55 5.55 0 0 1 521.3 834.3" stroke="#2ca02c" stroke-width="0.8" fill="none" opacity="0.45"/>
<path d="M534.4 842.7 A5.55 5.55 0 0 1 534.4 834.3" stroke="#2ca02c" stroke-width="0.8" fill="none" opacity="0.45"/>
<path d="M547.5 842.7 A5.55 5.55 0 0 1 547.5 834.3" stroke="#2ca02c" stroke-width="0.8" fill="none" opacity="0.45"/>
<path d="M569.3 842.7 A5.55 5.55 0 0 1 569.3 834.3" stroke="#2ca02c" stroke-width="0.8" fill="none" opacity="0.45"/>
<path d="M582.4 842.7 A5.55 5.55 0 0 1 582.4 834.3" stroke="#2ca02c" stroke-width="0.8" fill="none" opacity="0.45"/>
<path d="M595.4 842.7 A5.55 5.55 0 0 1 595.4 834.3" stroke="#2ca02c" stroke-width="0.8" fill="none" opacity="0.45"/>
<path d="M608.5 842.7 A5.55 5.55 0 0 1 608.5 834.3" stroke="#2ca02c" stroke-width="0.8" fill="none" opacity="0.45"/>
<path d="M617.2 842.7 A5.55 5.55 0 0 1 617.2 834.3" stroke="#2ca02c" stroke-width="0.8" fill="none" opacity="0.45"/>
<path d="M630.3 842.7 A5.55 5.55 0 0 1 630.3 834.3" stroke="#2ca02c" stroke-width="0.8" fill="none" opacity="0.45"/>
<path d="M643.4 842.7 A5.55 5.55 0 0 1 643.4 834.3" stroke="#2ca02c" stroke-width="0.8" fill="none" opacity="0.45"/>
<path d="M656.5 842.7 A5.55 5.55 0 0 1 656.5 834.3" stroke="#2ca02c" stroke-width="0.8" fill="none" opacity="0.45"/>
<path d="M665.2 842.7 A5.55 5.55 0 0 1 665.2 834.3" stroke="#2ca02c" stroke-width="0.8" fill="none" opacity="0.45"/>
<path d="M678.3 842.7 A5.55 5.55 0 0 1 678.3 834.3" stroke="#2ca02c" stroke-width="0.8" fill="none" opacity="0.45"/>
<path d="M691.4 842.7 A5.55 5.55 0 0 1 691.4 834.3" stroke="#2ca02c" stroke-width="0.8" fill="none" opacity="0.45"/>
<path d="M704.5 842.7 A5.55 5.55 0 0 1 704.5 834.3" stroke="#2ca02c" stroke-width="0.8" fill="none" opacity="0.45"/>
<path d="M713.2 842.7 A5.55 5.55 0 0 1 713.2 834.3" stroke="#2ca02c" stroke-width="0.8" fill="none" opacity="0.45"/>
<path d="M726.3 842.7 A5.55 5.55 0 0 1 726.3 834.3" stroke="#2ca02c" stroke-width="0.8" fill="none" opacity="0.45"/>
<path d="M739.4 842.7 A5.55 5.55 0 0 1 739.4 834.3" stroke="#2ca02c" stroke-width="0.8" fill="none" opacity="0.45"/>
<path d="M752.5 842.7 A5.55 5.55 0 0 1 752.5 834.3" stroke="#2ca02c" stroke-width="0.8" fill="none" opacity="0.45"/>
<path d="M774.3 842.7 A5.55 5.55 0 0 1 774.3 834.3" stroke="#2ca02c" stroke-width="0.8" fill="none" opacity="0.45"/>
<path d="M787.4 842.7 A5.55 5.55 0 0 1 787.4 834.3" stroke="#2ca02c" stroke-width="0.8" fill="none" opacity="0.45"/>
<path d="M800.5 842.7 A5.55 5.55 0 0 1 800.5 834.3" stroke="#2ca02c" stroke-width="0.8" fill="none" opacity="0.45"/>
<path d="M813.5 842.7 A5.55 5.55 0 0 1 813.5 834.3" stroke="#2ca02c" stroke-width="0.8" fill="none" opacity="0.45"/>
<path d="M822.3 842.7 A5.55 5.55 0 0 1 822.3 834.3" stroke="#2ca02c" stroke-width="0.8" fill="none" opacity="0.45"/>
<path d="M835.4 842.7 A5.55 5.55 0 0 1 835.4 834.3" stroke="#2ca02c" stroke-width="0.8" fill="none" opacity="0.45"/>
<path d="M848.4 842.7 A5.55 5.55 0 0 1 848.4 834.3" stroke="#2ca02c" stroke-width="0.8" fill="none" opacity="0.45"/>
<path d="M861.5 842.7 A5.55 5.55 0 0 1 861.5 834.3" stroke="#2ca02c" stroke-width="0.8" fill="none" opacity="0.45"/>
<path d="M870.2 842.7 A5.55 5.55 0 0 1 870.2 834.3" stroke="#2ca02c" stroke-width="0.8" fill="none" opacity="0.45"/>
<path d="M883.3 842.7 A5.55 5.55 0 0 1 883.3 834.3" stroke="#2ca02c" stroke-width="0.8" fill="none" opacity="0.45"/>
<path d="M896.4 842.7 A5.55 5.55 0 0 1 896.4 834.3" stroke="#2ca02c" stroke-width="0.8" fill="none" opacity="0.45"/>
<path d="M909.5 842.7 A5.55 5.55 0 0 1 909.5 834.3" stroke="#2ca02c" stroke-width="0.8" fill="none" opacity="0.45"/>
<path d="M918.2 842.7 A5.55 5.55 0 0 1 918.2 834.3" stroke="#2ca02c" stroke-width="0.8" fill="none" opacity="0.45"/>
<path d="M931.3 842.7 A5.55 5.55 0 0 1 931.3 834.3" stroke="#2ca02c" stroke-width="0.8" fill="none" opacity="0.45"/>
<path d="M944.4 842.7 A5.55 5.55 0 0 1 944.4 834.3" stroke="#2ca02c" stroke-width="0.8" fill="none" opacity="0.45"/>
<circle cx="952.4" cy="838.5" r="5.55" fill="#2ca02c"/>
</g>
<path d="M75.5 57.0 V838.5 H1166.0" stroke="#000" stroke-width="1" fill="none"/>
<text x="1087" y="80.6" text-anchor="end" xml:space="preserve">TCP</text>
<line x1="1097.4" y1="74.4" x2="1145.6" y2="74.4" stroke="#0060ad" stroke-width="2"/><circle cx="1121.5" cy="74.4" r="10" fill="#fff"/><circle cx="1121.5" cy="74.4" r="5.55" fill="#0060ad"/>
<text x="1087" y="99.7" text-anchor="end" xml:space="preserve">UDP</text>
<line x1="1097.4" y1="93.5" x2="1145.6" y2="93.5" stroke="#ff7f00" stroke-width="2"/><circle cx="1121.5" cy="93.5" r="10" fill="#fff"/><circle cx="1121.5" cy="93.5" r="5.55" fill="#ff7f00"/>
<text x="1087" y="118.7" text-anchor="end" xml:space="preserve">IP (!TCP  !UDP)</text>
<line x1="1097.4" y1="112.5" x2="1145.6" y2="112.5" stroke="#2ca02c" stroke-width="2"/><circle cx="1121.5" cy="112.5" r="10" fill="#fff"/><circle cx="1121.5" cy="112.5" r="5.55" fill="#2ca02c"/>
<text x="65.1" y="844.9" text-anchor="end">0</text>
<text x="65.1" y="714.7" text-anchor="end">2</text>
<text x="65.1" y="584.6" text-anchor="end">4</text>
<text x="65.1" y="454.4" text-anchor="end">6</text>
<text x="65.1" y="324.2" text-anchor="end">8</text>
<text x="65.1" y="194.1" text-anchor="end">10</text>
<text x="65.1" y="63.9" text-anchor="end">12</text>
<text x="77.8" y="864" text-anchor="middle">0</text>
<text x="295.8" y="864" text-anchor="middle">50</text>
<text x="513.8" y="864" text-anchor="middle">100</text>
<text x="731.8" y="864" text-anchor="middle">150</text>
<text x="949.8" y="864" text-anchor="middle">200</text>
<text x="1167.8" y="864" text-anchor="middle">250</text>
<text x="620.5" y="892" text-anchor="middle">Time (s)</text>
<text transform="translate(24.4,448.1) rotate(-90)" text-anchor="middle">Megabits</text>
<text id="title" x="1.0" y="34.7" xml:space="preserve">t/corpus/julyreruns/tiered/wireguard/experiment<tspan font-size="12.8" dy="4.8">3</tspan><tspan dy="-4.8">/eth1</tspan><tspan font-size="12.8" dy="4.8">i</tspan><tspan dy="-4.8">nterface/ptp/exp-c-720-html5-http2/1659073856-c0.wgptp.tiered.pharos-wireguardptp-c-video.pcap</tspan></text>
</svg></body></html>
